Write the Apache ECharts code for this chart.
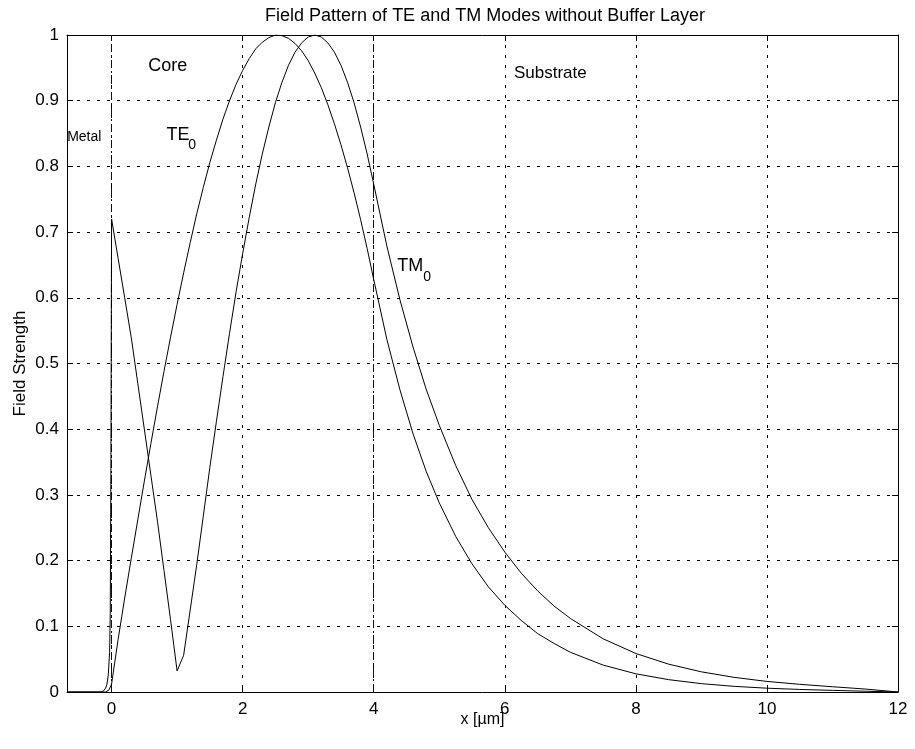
<!DOCTYPE html>
<html>
<head>
<meta charset="utf-8">
<script src="https://cdn.jsdelivr.net/npm/echarts@6/dist/echarts.min.js"></script>
<style>
html,body{margin:0;padding:0;background:#fff;}
#chart{width:915px;height:749px;}
</style>
</head>
<body>
<div id="chart"></div>
<script>
// ---- data ----
const xTicks = [0, 2, 4, 6, 8, 10, 12];
const yTicks = [0, 0.1, 0.2, 0.3, 0.4, 0.5, 0.6, 0.7, 0.8, 0.9, 1];
const layerBounds = [0, 4];

const teX = [-0.68, -0.09, -0.06, -0.04, -0.02, 0,
  0.1, 0.2, 0.3, 0.4, 0.5, 0.6, 0.7, 0.8, 0.9, 1.0,
  1.1, 1.2, 1.3, 1.4, 1.5, 1.6, 1.7, 1.8, 1.9, 2.0,
  2.1, 2.2, 2.3, 2.4, 2.5, 2.6, 2.7, 2.8, 2.9, 3.0,
  3.1, 3.2, 3.3, 3.4, 3.5, 3.6, 3.7, 3.8, 3.9, 4.0,
  4.2, 4.4, 4.6, 4.8, 5.0, 5.25, 5.5, 5.75, 6.0, 6.25, 6.5, 6.75,
  7.0, 7.5, 8.0, 8.5, 9.0, 9.5, 10.0, 10.5, 11.0, 11.5, 12];
const teY = [0, 0, 0.001, 0.003, 0.006, 0.012,
  0.08, 0.143, 0.203, 0.262, 0.321, 0.378, 0.434, 0.488, 0.540, 0.590,
  0.638, 0.684, 0.728, 0.768, 0.806, 0.840, 0.872, 0.900, 0.925, 0.946,
  0.964, 0.979, 0.989, 0.996, 1.0, 0.999, 0.995, 0.987, 0.976, 0.961,
  0.942, 0.920, 0.894, 0.865, 0.833, 0.798, 0.760, 0.719, 0.675, 0.628,
  0.537, 0.460, 0.393, 0.336, 0.288, 0.237, 0.195, 0.160, 0.132, 0.109, 0.089, 0.074,
  0.0605, 0.041, 0.0277, 0.0188, 0.0127, 0.0086, 0.0058, 0.0039, 0.0025, 0.0012, 0];

const tmX = [-0.68, -0.16, -0.12, -0.09, -0.07, -0.05, -0.03, -0.02, -0.01, 0,
  0.1, 0.2, 0.3, 0.4, 0.5, 0.6, 0.7, 0.8, 0.9, 1.0,
  1.1, 1.2, 1.3, 1.4, 1.5, 1.6, 1.7, 1.8, 1.9, 2.0,
  2.1, 2.2, 2.3, 2.4, 2.5, 2.6, 2.7, 2.8, 2.9, 3.0,
  3.1, 3.2, 3.3, 3.4, 3.5, 3.6, 3.7, 3.8, 3.9, 4.0,
  4.2, 4.4, 4.6, 4.8, 5.0, 5.25, 5.5, 5.75, 6.0, 6.25, 6.5, 6.75,
  7.0, 7.5, 8.0, 8.5, 9.0, 9.5, 10.0, 10.5, 11.0, 11.5, 12];
const tmY = [0, 0, 0.002, 0.006, 0.012, 0.026, 0.06, 0.12, 0.35, 0.72,
  0.66, 0.60, 0.54, 0.47, 0.40, 0.33, 0.26, 0.185, 0.11, 0.032,
  0.056, 0.125, 0.194, 0.268, 0.342, 0.412, 0.480, 0.546, 0.609, 0.667,
  0.722, 0.773, 0.819, 0.860, 0.897, 0.928, 0.954, 0.974, 0.988, 0.997,
  1.0, 0.997, 0.988, 0.974, 0.954, 0.928, 0.897, 0.860, 0.819, 0.773,
  0.679, 0.597, 0.525, 0.461, 0.406, 0.345, 0.293, 0.250, 0.213, 0.181, 0.154, 0.131,
  0.112, 0.081, 0.0586, 0.0424, 0.0307, 0.0223, 0.0161, 0.0117, 0.008, 0.0045, 0];

// annotations: text, x, y (data coords of left / middle)
const annoText = ['Core', 'Metal', 'TE', '0', 'TM', '0', 'Substrate'];
const annoX    = [0.559, -0.678, 0.84, 1.17, 4.36, 4.757, 6.14];
const annoY    = [0.953, 0.844, 0.847, 0.833, 0.648, 0.631, 0.941];
const annoSize = [18, 14, 18, 14, 18, 14, 17];

const FONT = '"Liberation Sans", Arial, Helvetica, sans-serif';
const pairs = (xs, ys) => xs.map((x, i) => [x, ys[i]]);

const chart = echarts.init(document.getElementById('chart'), null, {renderer: 'canvas'});
const xMin = -0.68, xMax = 12;
const gridStyle = {show: true, lineStyle: {color: '#000', width: 1, type: [3, 7]}};

const option = {
  animation: false,
  backgroundColor: '#fff',
  textStyle: {fontFamily: FONT},
  title: {
    text: 'Field Pattern of TE and TM Modes without Buffer Layer',
    left: 480, top: 2, textAlign: 'center',
    textStyle: {fontFamily: FONT, fontSize: 18, fontWeight: 'normal', color: '#000'}
  },
  grid: {left: 67, right: 17, top: 35, bottom: 57, containLabel: false},
  xAxis: [{
    type: 'value', min: xMin, max: xMax, position: 'bottom',
    name: 'x [\u00b5m]', nameLocation: 'middle', nameGap: 20, nameMoveOverlap: false,
    nameTextStyle: {fontFamily: FONT, fontSize: 16, color: '#000'},
    axisLine: {show: true, onZero: false, lineStyle: {color: '#000', width: 1}},
    axisTick: {show: true, inside: true, length: 6, customValues: xTicks, lineStyle: {color: '#000'}},
    axisLabel: {show: true, customValues: xTicks, margin: 9, fontFamily: FONT, fontSize: 17, color: '#000'},
    splitLine: gridStyle
  }, {
    type: 'value', min: xMin, max: xMax, position: 'top',
    axisLine: {show: true, onZero: false, lineStyle: {color: '#000', width: 1}},
    axisTick: {show: true, inside: true, length: 6, customValues: xTicks, lineStyle: {color: '#000'}},
    axisLabel: {show: false},
    splitLine: {show: false}
  }],
  yAxis: [{
    type: 'value', min: 0, max: 1, interval: 0.1, position: 'left',
    name: 'Field Strength', nameLocation: 'middle', nameGap: 38, nameMoveOverlap: false,
    nameTextStyle: {fontFamily: FONT, fontSize: 17, color: '#000'},
    axisLine: {show: true, onZero: false, lineStyle: {color: '#000', width: 1}},
    axisTick: {show: true, inside: true, length: 6, lineStyle: {color: '#000'}},
    axisLabel: {show: true, margin: 8, fontFamily: FONT, fontSize: 17, color: '#000',
      formatter: v => String(+(+v).toFixed(1))},
    splitLine: gridStyle
  }, {
    type: 'value', min: 0, max: 1, interval: 0.1, position: 'right',
    axisLine: {show: true, onZero: false, lineStyle: {color: '#000', width: 1}},
    axisTick: {show: true, inside: true, length: 6, lineStyle: {color: '#000'}},
    axisLabel: {show: false},
    splitLine: {show: false}
  }],
  series: [{
    name: 'TE0', type: 'line', data: pairs(teX, teY),
    showSymbol: false, symbol: 'none', smooth: false,
    lineStyle: {color: '#000', width: 1}, z: 5,
    markLine: {
      silent: true, symbol: ['none', 'none'], label: {show: false},
      lineStyle: {color: '#111', width: 1, type: [8, 3, 2, 3]},
      data: layerBounds.map(b => ({xAxis: b}))
    }
  }, {
    name: 'TM0', type: 'line', data: pairs(tmX, tmY),
    showSymbol: false, symbol: 'none', smooth: false,
    lineStyle: {color: '#000', width: 1}, z: 5
  }]
};
chart.setOption(option);

const graphics = annoText.map((t, i) => {
  const p = chart.convertToPixel({gridIndex: 0}, [annoX[i], annoY[i]]);
  return {
    type: 'text', x: p[0], y: p[1], z: 10,
    style: {text: t, fill: '#000', fontFamily: FONT, fontSize: annoSize[i],
      align: 'left', verticalAlign: 'middle'}
  };
});
chart.setOption({graphic: graphics});
</script>
</body>
</html>
